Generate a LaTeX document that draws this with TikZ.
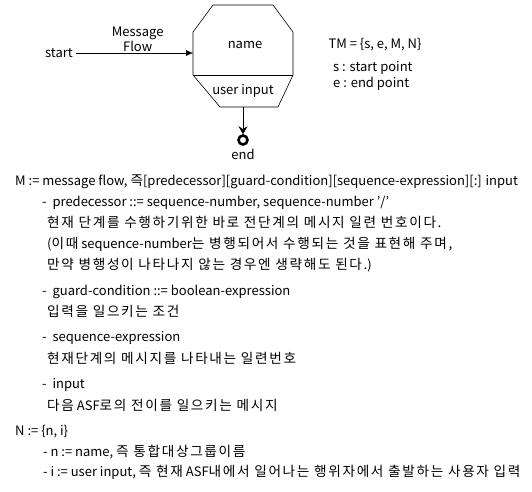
\documentclass[tikz,border=0pt]{standalone}
\usepackage{fontspec}
\setmainfont{Noto Sans CJK KR}
\newfontfamily\krfont[Scale=1.05,LetterSpace=12]{Noto Sans CJK KR}
\newcommand{\kr}[1]{{\krfont #1}}
\usetikzlibrary{positioning,arrows.meta}

\begin{document}
\begin{tikzpicture}[x=1pt, y=-1pt, font=\fontsize{13}{15}\selectfont,
  line/.style={anchor=west, inner sep=0pt, text height=9pt, text depth=3pt}]
\useasboundingbox (0,0) rectangle (532,491);

% the state box
\draw[line width=0.6pt] (213,5) -- (273,5) -- (293,32) -- (293,75) -- (278,107) -- (220,107) -- (193,75) -- (193,32) -- cycle;
\draw[line width=0.6pt] (193,75) -- (293,75);
\node (name) at (245,45) {name};
\node (uinput) at (243,91) {user input};
\coordinate (inbox) at (193,53);
\coordinate (outbox) at (243,107);

\node (start) at (59,53) {start};
\node (endmark) [draw, circle, line width=2.6pt, minimum size=9pt, inner sep=0pt] at (243,140) {};
\node (endlbl) [below=0pt of endmark] {end};

\draw[-{Latex[length=7pt,width=6pt]}] (start) -- node[above, align=center, inner sep=1pt, xshift=3pt] {Message\\Flow} (inbox);
\draw[-{Stealth[length=8pt,width=9pt,inset=3pt]}] (outbox) -- (endmark);

% TM tuple
\node (tm) [anchor=west] at (325,45) {TM = \{s, e, M, N\}};
\node (spt) [line] at (333,68) {s : start point};
\node (ept) [below=16pt of spt.west, line] {e : end point};

% definitions
\node (mline) [line] at (15,182) {M := message flow, \kr{즉}[predecessor][guard-condition][sequence-expression][:] input};
\node (pred) [below=21pt of mline.west, line, xshift=27pt] {-\ \ predecessor ::= sequence-number, sequence-number '/'};
\node (pred1) [below=21pt of pred.west, line, xshift=5pt] {\kr{현재 단계를 수행하기위한 바로 전단계의 메시지 일련 번호이다.}};
\node (pred2) [below=21pt of pred1.west, line] {(\kr{이때} sequence-number\kr{는 병행되어서 수행되는 것을 표현해 주며,}};
\node (pred3) [below=21pt of pred2.west, line] {\kr{만약 병행성이 나타나지 않는 경우엔 생략해도 된다.})};
\node (guard) [below=26pt of pred3.west, line, xshift=-5pt] {-\ \ guard-condition ::= boolean-expression};
\node (guard1) [below=21pt of guard.west, line, xshift=5pt] {\kr{입력을 일으키는 조건}};
\node (seq) [below=25pt of guard1.west, line, xshift=-5pt] {-\ \ sequence-expression};
\node (seq1) [below=22pt of seq.west, line, xshift=5pt] {\kr{현재단계의 메시지를 나타내는 일련번호}};
\node (inp) [below=25pt of seq1.west, line, xshift=-5pt] {-\ \ input};
\node (inp1) [below=22pt of inp.west, line, xshift=5pt] {\kr{다음} ASF\kr{로의 전이를 일으키는 메시지}};
\node (nline) [below=25pt of inp1.west, line, xshift=-32pt] {N := \{n, i\}};
\node (nn) [below=21pt of nline.west, line, xshift=28pt] {- n := name, \kr{즉 통합대상그룹이름}};
\node (ni) [below=20pt of nn.west, line] {- i := user input, \kr{즉 현재} ASF\kr{내에서 일어나는 행위자에서 출발하는 사용자 입력}};
\end{tikzpicture}
\end{document}
